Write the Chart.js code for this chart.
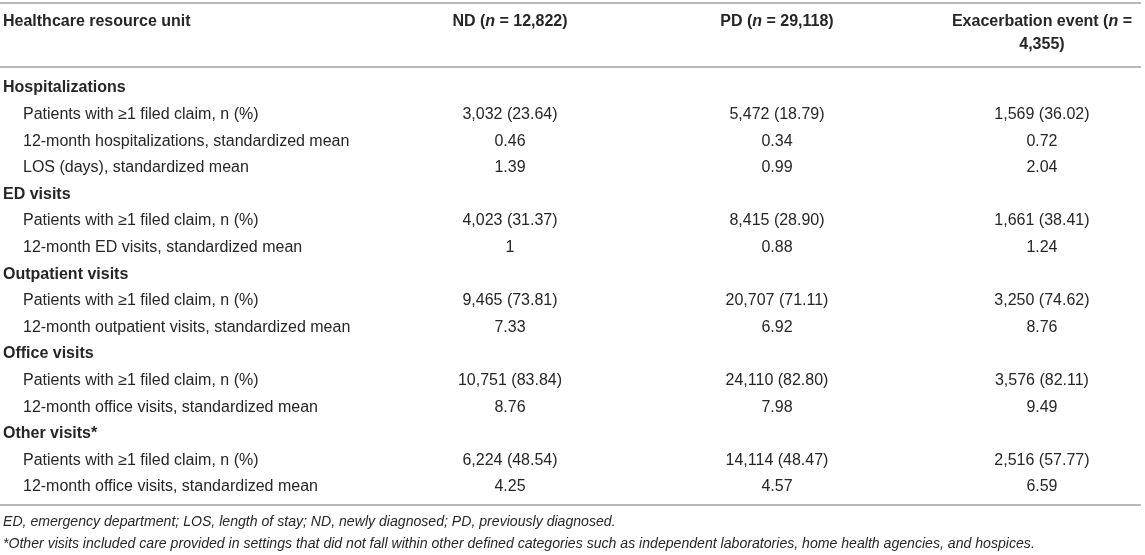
<!DOCTYPE html>
<html>
<head>
<meta charset="utf-8">
<script src="https://cdn.jsdelivr.net/npm/chart.js@4.4.0/dist/chart.umd.min.js"></script>
<style>
  html, body { margin: 0; padding: 0; background: #fff; }
  #wrap { width: 1145px; height: 555px; position: relative; }
</style>
</head>
<body>
<div id="wrap"><canvas id="table-chart"></canvas></div>
<script>
// Table content
const rowLabels = [
    'Hospitalizations',
    'Patients with \u22651 filed claim, n (%)',
    '12-month hospitalizations, standardized mean',
    'LOS (days), standardized mean',
    'ED visits',
    'Patients with \u22651 filed claim, n (%)',
    '12-month ED visits, standardized mean',
    'Outpatient visits',
    'Patients with \u22651 filed claim, n (%)',
    '12-month outpatient visits, standardized mean',
    'Office visits',
    'Patients with \u22651 filed claim, n (%)',
    '12-month office visits, standardized mean',
    'Other visits*',
    'Patients with \u22651 filed claim, n (%)',
    '12-month office visits, standardized mean'
];
const sectionRows = [0, 4, 7, 10, 13];

const ndValues = ['', '3,032 (23.64)', '0.46', '1.39', '', '4,023 (31.37)', '1', '', '9,465 (73.81)', '7.33', '', '10,751 (83.84)', '8.76', '', '6,224 (48.54)', '4.25'];
const pdValues = ['', '5,472 (18.79)', '0.34', '0.99', '', '8,415 (28.90)', '0.88', '', '20,707 (71.11)', '6.92', '', '24,110 (82.80)', '7.98', '', '14,114 (48.47)', '4.57'];
const exValues = ['', '1,569 (36.02)', '0.72', '2.04', '', '1,661 (38.41)', '1.24', '', '3,250 (74.62)', '8.76', '', '3,576 (82.11)', '9.49', '', '2,516 (57.77)', '6.59'];

// header cells: lines of [text, italic] segments
const columnHeaders = [
    [[['Healthcare resource unit', false]]],
    [[['ND (', false], ['n', true], [' = 12,822)', false]]],
    [[['PD (', false], ['n', true], [' = 29,118)', false]]],
    [[['Exacerbation event (', false], ['n', true], [' =', false]], [['4,355)', false]]]
];

const footnotes = [
    'ED, emergency department; LOS, length of stay; ND, newly diagnosed; PD, previously diagnosed.',
    '*Other visits included care provided in settings that did not fall within other defined categories such as independent laboratories, home health agencies, and hospices.'
];

// Layout (scale units)
const FONT = '"Liberation Sans", Arial, sans-serif';
const TEXT_COLOR = '#262626';
const RULE_COLOR = '#b9b9b9';
const colAnchors = [0.26, 44.54, 67.86, 91.0];
const tableRight = 99.65;
const headerLinePos = [-2.48, -1.62];
const rulePos = [-3.2, -0.79, 15.68];
const footnotePos = [16.32, 17.14];
const INDENT = 20;

const drawRich = (ctx, segs, x, y, align, bold) => {
    const fontFor = (italic) => `${italic ? 'italic ' : ''}${bold ? 'bold ' : ''}16px ${FONT}`;
    let total = 0;
    segs.forEach(([t, it]) => { ctx.font = fontFor(it); total += ctx.measureText(t).width; });
    let cx = align === 'left' ? x : x - total / 2;
    ctx.textAlign = 'left';
    segs.forEach(([t, it]) => {
        ctx.font = fontFor(it);
        ctx.fillText(t, cx, y);
        cx += ctx.measureText(t).width;
    });
};

const tableText = {
    id: 'tableText',
    afterDatasetsDraw(chart) {
        const ctx = chart.ctx;
        const xs = chart.scales.x, ys = chart.scales.y;
        ctx.save();
        ctx.fillStyle = TEXT_COLOR;
        ctx.textBaseline = 'middle';

        // horizontal rules
        ctx.strokeStyle = RULE_COLOR;
        ctx.lineWidth = 2;
        rulePos.forEach(v => {
            const py = Math.round(ys.getPixelForValue(v));
            ctx.beginPath();
            ctx.moveTo(xs.left, py);
            ctx.lineTo(xs.getPixelForValue(tableRight), py);
            ctx.stroke();
        });

        // header
        columnHeaders.forEach((lines, c) => {
            lines.forEach((segs, li) => {
                drawRich(ctx, segs, xs.getPixelForValue(colAnchors[c]), ys.getPixelForValue(headerLinePos[li]),
                    c === 0 ? 'left' : 'center', true);
            });
        });

        // body cells
        chart.data.datasets.forEach((ds, c) => {
            const meta = chart.getDatasetMeta(c);
            meta.data.forEach((pt, i) => {
                const txt = ds.texts[i];
                if (!txt) return;
                const section = sectionRows.includes(i);
                ctx.font = `${c === 0 && section ? 'bold ' : ''}16px ${FONT}`;
                ctx.textAlign = c === 0 ? 'left' : 'center';
                ctx.fillText(txt, pt.x + (c === 0 && !section ? INDENT : 0), pt.y);
            });
        });

        // footnotes
        ctx.font = `italic 14.1px ${FONT}`;
        ctx.textAlign = 'left';
        footnotes.forEach((t, k) => {
            ctx.fillText(t, xs.getPixelForValue(colAnchors[0]), ys.getPixelForValue(footnotePos[k]));
        });
        ctx.restore();
    }
};

const columns = [rowLabels, ndValues, pdValues, exValues];

new Chart(document.getElementById('table-chart'), {
    type: 'scatter',
    data: {
        datasets: columns.map((texts, c) => ({
            label: `col${c}`,
            texts,
            data: texts.map((_, i) => ({ x: colAnchors[c], y: i })),
            pointRadius: 0,
            pointHoverRadius: 0
        }))
    },
    options: {
        responsive: true,
        maintainAspectRatio: false,
        animation: false,
        events: [],
        layout: { padding: 0 },
        plugins: { legend: { display: false }, tooltip: { enabled: false } },
        scales: {
            x: { type: 'linear', min: 0, max: 100, display: false },
            y: { type: 'linear', reverse: true, min: -3.308, max: 17.556, display: false }
        }
    },
    plugins: [tableText]
});
</script>
</body>
</html>
